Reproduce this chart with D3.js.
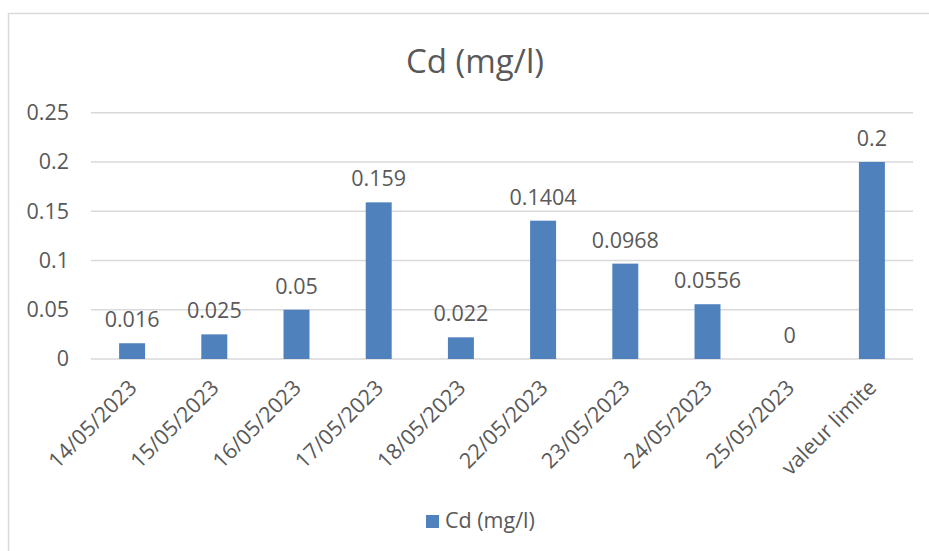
<!DOCTYPE html>
<html>
<head>
<meta charset="utf-8">
<script src="https://cdn.jsdelivr.net/npm/d3@7/dist/d3.min.js"></script>
<style>
  html, body { margin: 0; padding: 0; background: #fff; }
  svg { display: block; }
  text { font-family: "Open Sans", "Noto Sans", sans-serif; fill: #595959; }
</style>
</head>
<body>
<svg id="chart" width="929" height="551"></svg>
<script>
// Cadmium concentration per sampling date, plus the regulatory limit
const categories = ["14/05/2023", "15/05/2023", "16/05/2023", "17/05/2023", "18/05/2023",
                    "22/05/2023", "23/05/2023", "24/05/2023", "25/05/2023", "valeur limite"];
const values = [0.016, 0.025, 0.05, 0.159, 0.022, 0.1404, 0.0968, 0.0556, 0, 0.2];
const valueLabels = ["0.016", "0.025", "0.05", "0.159", "0.022", "0.1404", "0.0968", "0.0556", "0", "0.2"];
const yTicks = [0, 0.05, 0.1, 0.15, 0.2, 0.25];
const yTickLabels = ["0", "0.05", "0.1", "0.15", "0.2", "0.25"];
const seriesName = "Cd (mg/l)";
const titleText = "Cd (mg/l)";

const barColor = "#4F81BD";
const gridColor = "#D9D9D9";
const fontSize = "21.5px";

const svg = d3.select("#chart");

// chart frame (left and top edges visible within the window)
svg.append("rect")
  .attr("x", 8.5).attr("y", 13.5)
  .attr("width", 1000).attr("height", 1000)
  .attr("fill", "none").attr("stroke", gridColor).attr("stroke-width", 1.5);

const plot = { left: 91, right: 913, top: 112.7, bottom: 359 };

const x = d3.scaleBand()
  .domain(categories)
  .range([plot.left, plot.right])
  .paddingInner(0.684)
  .paddingOuter(0.342);

const y = d3.scaleLinear()
  .domain([0, 0.25])
  .range([plot.bottom, plot.top]);

// title
svg.append("text")
  .attr("x", 475).attr("y", 73)
  .attr("text-anchor", "middle")
  .style("font-size", "33px")
  .text(titleText);

// horizontal gridlines
svg.append("g")
  .selectAll("line")
  .data(yTicks)
  .join("line")
  .attr("x1", plot.left).attr("x2", plot.right)
  .attr("y1", d => y(d)).attr("y2", d => y(d))
  .attr("stroke", gridColor).attr("stroke-width", 1.5);

// y axis labels
const yAxis = d3.axisLeft(y)
  .tickValues(yTicks)
  .tickFormat((d, i) => yTickLabels[i])
  .tickSize(0)
  .tickPadding(0);
const yg = svg.append("g")
  .attr("transform", `translate(69,0)`)
  .call(yAxis);
yg.select(".domain").remove();
yg.selectAll("text")
  .style("font-size", fontSize)
  .style("font-family", "\"Open Sans\", sans-serif")
  .attr("fill", "#595959");

// bars
svg.append("g")
  .selectAll("rect")
  .data(values)
  .join("rect")
  .attr("x", (d, i) => x(categories[i]))
  .attr("width", x.bandwidth())
  .attr("y", d => y(d))
  .attr("height", d => y(0) - y(d))
  .attr("fill", barColor);

// value labels
svg.append("g")
  .selectAll("text")
  .data(values)
  .join("text")
  .attr("x", (d, i) => x(categories[i]) + x.bandwidth() / 2)
  .attr("y", d => y(d) - 16)
  .attr("text-anchor", "middle")
  .style("font-size", fontSize)
  .text((d, i) => valueLabels[i]);

// x axis (category labels rotated)
const xAxis = d3.axisBottom(x).tickSize(0).tickPadding(0);
const xg = svg.append("g")
  .attr("transform", `translate(0,${plot.bottom})`)
  .call(xAxis);
xg.select(".domain").remove();
xg.selectAll("text")
  .attr("text-anchor", "end")
  .attr("dy", null)
  .attr("y", 0)
  .attr("transform", "translate(6,30) rotate(-45)")
  .style("font-size", fontSize)
  .style("font-family", "\"Open Sans\", sans-serif")
  .attr("fill", "#595959");

// legend
const legend = svg.append("g").attr("transform", "translate(426,515)");
legend.append("rect")
  .attr("width", 13).attr("height", 13)
  .attr("fill", barColor);
legend.append("text")
  .attr("x", 19).attr("y", 13)
  .style("font-size", fontSize)
  .text(seriesName);
</script>
</body>
</html>
